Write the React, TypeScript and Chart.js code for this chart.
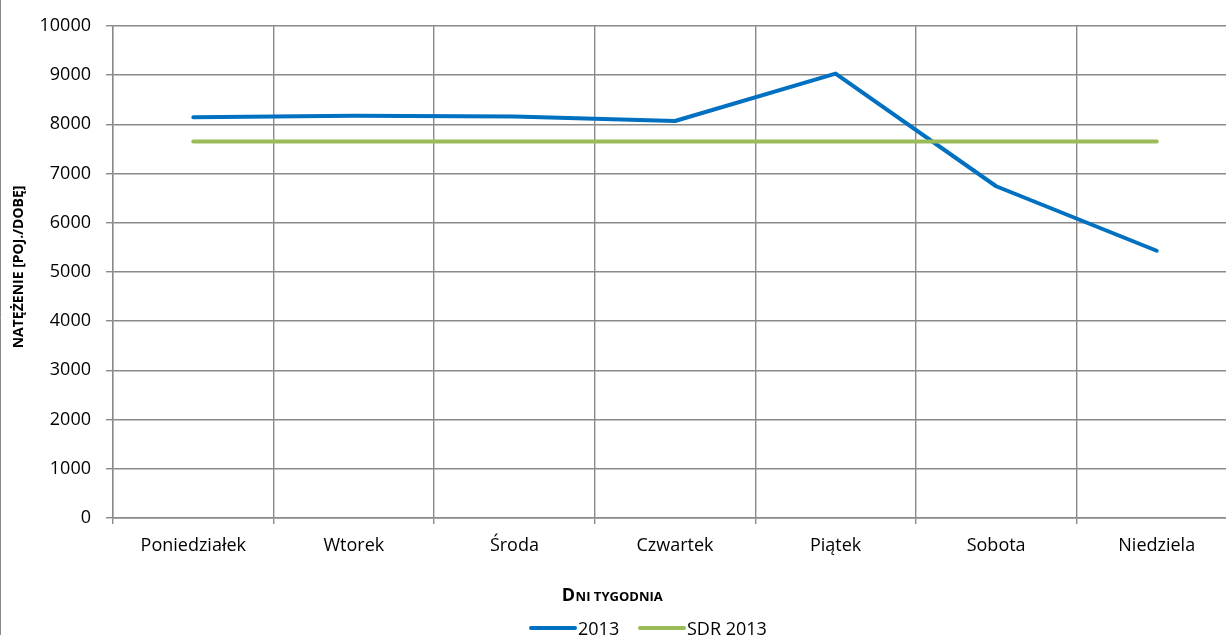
import React, { useEffect, useRef } from "react";
import { Chart, registerables } from "chart.js";

Chart.register(...registerables);

const categories = ["Poniedziałek", "Wtorek", "Środa", "Czwartek", "Piątek", "Sobota", "Niedziela"];
const series2013 = [8140, 8175, 8155, 8065, 9030, 6740, 5430];
const seriesSDR2013 = [7650, 7650, 7650, 7650, 7650, 7650, 7650];
const seriesLabels = ["2013", "SDR 2013"];
const seriesColors = ["#0070C0", "#9BBB59"];
const yTitle = "NATĘŻENIE [POJ./DOBĘ]";
const xTitleFirst = "D";
const xTitleRest = "NI TYGODNIA";

const FONT = "'Open Sans', 'Noto Sans', sans-serif";
const GRID = "#8a8a8a";

const decorPlugin = {
  id: "decor",
  afterDraw(chart: any) {
    const ctx = chart.ctx as CanvasRenderingContext2D;
    const area = chart.chartArea;
    ctx.save();
    // left frame border
    ctx.strokeStyle = GRID;
    ctx.lineWidth = 1;
    ctx.beginPath();
    ctx.moveTo(0.5, 0);
    ctx.lineTo(0.5, chart.height);
    ctx.stroke();

    // y title
    ctx.fillStyle = "#000";
    ctx.font = `bold 14px ${FONT}`;
    ctx.textAlign = "center";
    ctx.textBaseline = "middle";
    ctx.translate(19, (area.top + area.bottom) / 2 - 5);
    ctx.rotate(-Math.PI / 2);
    ctx.fillText(yTitle, 0, 0);
    ctx.restore();

    // x title with small caps
    ctx.save();
    ctx.fillStyle = "#000";
    ctx.textBaseline = "alphabetic";
    ctx.textAlign = "left";
    const bigFont = `bold 18px ${FONT}`;
    const smallFont = `bold 13px ${FONT}`;
    ctx.font = bigFont;
    const w1 = ctx.measureText(xTitleFirst).width;
    ctx.font = smallFont;
    const w2 = ctx.measureText(xTitleRest).width;
    const cx = 612;
    const x0 = cx - (w1 + w2) / 2;
    ctx.font = bigFont;
    ctx.fillText(xTitleFirst, x0, 601);
    ctx.font = smallFont;
    ctx.fillText(xTitleRest, x0 + w1 + 0.5, 601);

    // legend
    const legendY = 628;
    const items = [
      { x: 531, label: seriesLabels[0], color: seriesColors[0] },
      { x: 640, label: seriesLabels[1], color: seriesColors[1] },
    ];
    ctx.font = `18px ${FONT}`;
    ctx.lineCap = "round";
    items.forEach((it) => {
      ctx.strokeStyle = it.color;
      ctx.lineWidth = 4;
      ctx.beginPath();
      ctx.moveTo(it.x, legendY);
      ctx.lineTo(it.x + 44, legendY);
      ctx.stroke();
      ctx.fillStyle = "#000";
      ctx.fillText(it.label, it.x + 47, 635);
    });
    ctx.restore();
  },
};

export default function App() {
  const ref = useRef<HTMLCanvasElement | null>(null);
  useEffect(() => {
    if (!ref.current) return;
    const chart = new Chart(ref.current, {
      type: "line",
      data: {
        labels: categories,
        datasets: [
          {
            label: seriesLabels[0],
            data: series2013,
            borderColor: seriesColors[0],
            backgroundColor: seriesColors[0],
            borderWidth: 4,
            pointRadius: 0,
            borderCapStyle: "round",
            borderJoinStyle: "round",
            tension: 0,
            order: 1,
          },
          {
            label: seriesLabels[1],
            data: seriesSDR2013,
            borderColor: seriesColors[1],
            backgroundColor: seriesColors[1],
            borderWidth: 4,
            pointRadius: 0,
            borderCapStyle: "round",
            borderJoinStyle: "round",
            tension: 0,
            order: 0,
          },
        ],
      },
      options: {
        responsive: false,
        animation: false,
        devicePixelRatio: 1,
        layout: { padding: { left: 0, top: 24, right: 13, bottom: 0 } },
        plugins: {
          legend: { display: false },
          tooltip: { enabled: false },
          title: { display: false },
        },
        scales: {
          x: {
            type: "category",
            offset: true,
            grid: { offset: true, color: GRID, lineWidth: 1.4, tickLength: 6, drawTicks: true },
            border: { display: true, color: GRID, width: 1.4 },
            ticks: { color: "#000", font: { family: FONT, size: 18 }, padding: 11, maxRotation: 0, autoSkip: false },
            afterFit: (scale: any) => {
              scale.height = 117;
            },
          },
          y: {
            min: 0,
            max: 10000,
            ticks: {
              stepSize: 1000,
              color: "#000",
              font: { family: FONT, size: 18 },
              padding: 15,
              callback: (v: any) => String(v),
            },
            grid: { color: GRID, lineWidth: 1.4, tickLength: 7, drawTicks: true },
            border: { display: true, color: GRID, width: 1.4 },
            afterFit: (scale: any) => {
              scale.width = 113;
            },
          },
        },
      },
      plugins: [decorPlugin],
    });
    return () => chart.destroy();
  }, []);
  return (
    <div style={{ position: "fixed", left: 0, top: 0, width: 1226, height: 635, overflow: "hidden", background: "#fff" }}>
      <canvas ref={ref} width={1250} height={635} style={{ display: "block", width: 1250, height: 635 }} />
    </div>
  );
}
